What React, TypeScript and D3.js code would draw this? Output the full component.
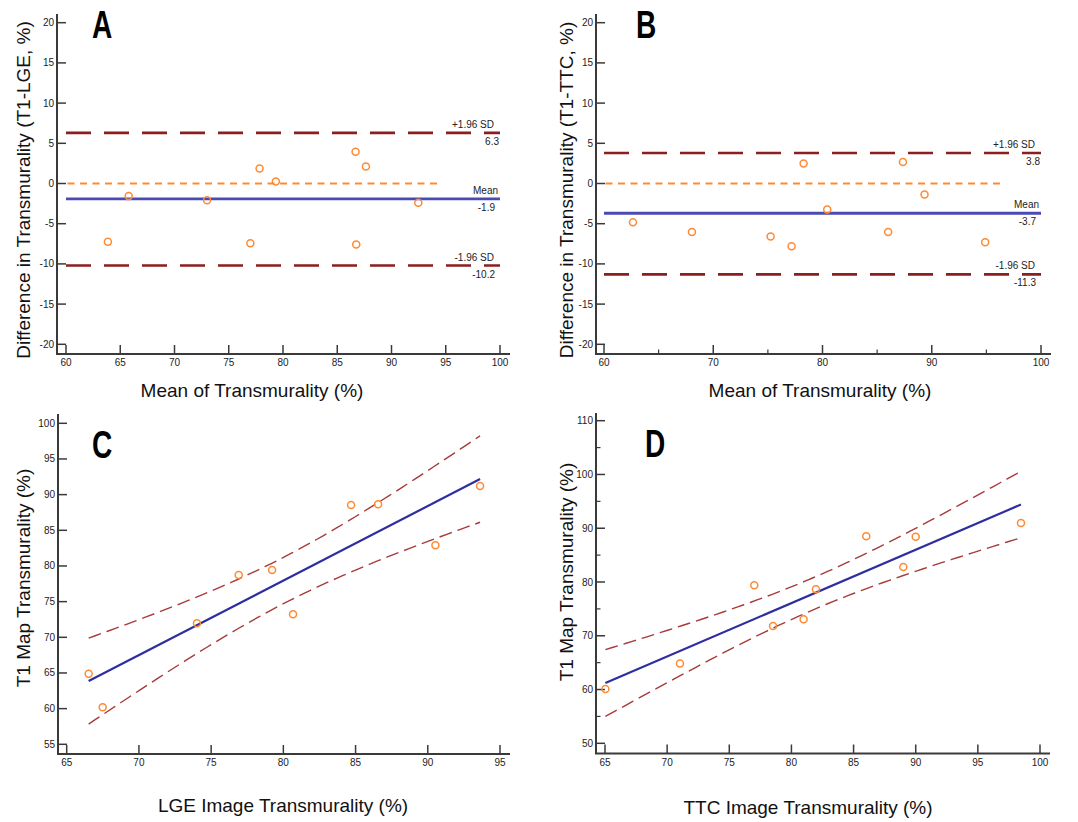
import React from 'react';
import * as d3 from 'd3';

// ---------- DATA ----------
// Panel A: Bland-Altman T1 vs LGE
const baMeanA = [63.86, 65.78, 73.0, 76.99, 77.84, 79.34, 86.69, 86.75, 87.64, 92.47];
const baDiffA = [-7.25, -1.57, -2.07, -7.42, 1.87, 0.25, 3.94, -7.58, 2.11, -2.4];
const baLineValuesA = [6.3, -1.9, -10.2]; // +1.96 SD, mean, -1.96 SD
const baZeroEndA = 94.3;

// Panel B: Bland-Altman T1 vs TTC
const baMeanB = [62.65, 68.05, 75.25, 77.17, 78.27, 80.43, 86.01, 87.36, 89.34, 94.89];
const baDiffB = [-4.81, -6.02, -6.6, -7.8, 2.49, -3.24, -6.02, 2.66, -1.37, -7.31];
const baLineValuesB = [3.8, -3.7, -11.3];
const baZeroEndB = 96.7;

const baLineNames = ['+1.96 SD', 'Mean', '-1.96 SD'];

// Panel C: regression T1 vs LGE
const lgeC = [66.52, 67.49, 74.02, 76.91, 79.22, 80.67, 84.69, 86.56, 90.53, 93.62];
const t1C = [64.9, 60.2, 71.96, 78.73, 79.43, 73.22, 88.55, 88.65, 82.9, 91.21];

// Panel D: regression T1 vs TTC
const ttcD = [65.03, 71.03, 77.01, 78.52, 80.98, 81.97, 86.02, 89.0, 90.0, 98.47];
const t1D = [60.11, 64.82, 79.39, 71.83, 73.07, 78.65, 88.5, 82.8, 88.43, 90.98];

const tCrit95 = 2.306; // t(0.975, df = 8)

// Ticks
const baXTicksA = [60, 65, 70, 75, 80, 85, 90, 95, 100];
const baXTicksB = [60, 70, 80, 90, 100];
const baXMinorB = [65, 75, 85, 95];
const baYTicks = [-20, -15, -10, -5, 0, 5, 10, 15, 20];
const cXTicks = [65, 70, 75, 80, 85, 90, 95];
const cYTicks = [55, 60, 65, 70, 75, 80, 85, 90, 95, 100];
const dXTicks = [65, 70, 75, 80, 85, 90, 95, 100];
const dYTicks = [50, 60, 70, 80, 90, 100, 110];
const dYMinor = [55, 65, 75, 85, 95, 105];

// ---------- STYLE ----------
const FONT = 'Liberation Sans, Arial, Helvetica, sans-serif';
const AXIS = '#3a3a3a';
const ORANGE = '#ff8a33';
const SDRED = '#8b1e1e';
const MEANBLUE = '#4a4ab4';
const REGBLUE = '#2e2ea0';
const CIRED = '#a83a3a';

type Layout = {
  axisX: number; axisBottom: number; axisTop: number; axisRight: number;
  xRange: [number, number]; yRange: [number, number];
};

function Axes({ L, x, y, xTicks, yTicks, xMinor = [], yMinor = [] }: any) {
  return (
    <g>
      <line x1={L.axisX} x2={L.axisX} y1={L.axisTop} y2={L.axisBottom} stroke={AXIS} strokeWidth={2} />
      <line x1={L.axisX - 1} x2={L.axisRight} y1={L.axisBottom} y2={L.axisBottom} stroke={AXIS} strokeWidth={2} />
      {yTicks.map((t: number) => (
        <g key={'y' + t}>
          <line x1={L.axisX} x2={L.axisX + 9} y1={y(t)} y2={y(t)} stroke={AXIS} strokeWidth={1.5} />
          <text x={L.axisX - 3} y={y(t)} dy="0.35em" textAnchor="end" fontSize={10} fontFamily={FONT} fill="#222">{t}</text>
        </g>
      ))}
      {yMinor.map((t: number) => (
        <line key={'ym' + t} x1={L.axisX} x2={L.axisX + 4.5} y1={y(t)} y2={y(t)} stroke={AXIS} strokeWidth={1.2} />
      ))}
      {xTicks.map((t: number) => (
        <g key={'x' + t}>
          <line x1={x(t)} x2={x(t)} y1={L.axisBottom} y2={L.axisBottom - 9} stroke={AXIS} strokeWidth={1.5} />
          <text x={x(t)} y={L.axisBottom + 12} textAnchor="middle" fontSize={10} fontFamily={FONT} fill="#222">{t}</text>
        </g>
      ))}
      {xMinor.map((t: number) => (
        <line key={'xm' + t} x1={x(t)} x2={x(t)} y1={L.axisBottom} y2={L.axisBottom - 4.5} stroke={AXIS} strokeWidth={1.2} />
      ))}
    </g>
  );
}

function Titles({ letter, letterX, letterY, yTitle, yTitleX, yTitleY, xTitle, xTitleX, xTitleY }: any) {
  return (
    <g>
      <text transform={`translate(${letterX},${letterY}) scale(0.72,1)`} fontSize={39} fontWeight="bold" fontFamily={FONT} fill="#000">{letter}</text>
      <text transform={`translate(${yTitleX},${yTitleY}) rotate(-90)`} textAnchor="middle" fontSize={19} fontFamily={FONT} fill="#111">{yTitle}</text>
      <text x={xTitleX} y={xTitleY} textAnchor="middle" fontSize={19} fontFamily={FONT} fill="#111">{xTitle}</text>
    </g>
  );
}

function BlandAltman({ L, means, diffs, lineValues, zeroEnd, xTicks, xMinor, xDomain }: any) {
  const x = d3.scaleLinear().domain(xDomain).range(L.xRange);
  const y = d3.scaleLinear().domain([-20, 20]).range(L.yRange);
  const [x0, x1] = xDomain;
  const xe = x(x1);
  const hLine = d3.line<number>().x((d) => d).y(0);
  return (
    <g>
      <Axes L={L} x={x} y={y} xTicks={xTicks} yTicks={baYTicks} xMinor={xMinor} />
      {/* zero line */}
      <line x1={x(x0) + 1.5} x2={x(zeroEnd)} y1={y(0)} y2={y(0)} stroke={ORANGE} strokeWidth={2.2} strokeDasharray="7,5.5" />
      {/* SD lines */}
      {[0, 2].map((i) => (
        <line key={'sd' + i} x1={x(x0)} x2={xe} y1={y(lineValues[i])} y2={y(lineValues[i])} stroke={SDRED} strokeWidth={2.6} strokeDasharray="25,13" />
      ))}
      {/* mean line */}
      <line x1={x(x0)} x2={xe} y1={y(lineValues[1])} y2={y(lineValues[1])} stroke={MEANBLUE} strokeWidth={2.8} />
      {/* labels */}
      {lineValues.map((v: number, i: number) => (
        <g key={'lab' + i} fontFamily={FONT} fontSize={10} fill="#222">
          <text x={xe - (i === 1 ? 2 : 6)} y={y(v) - 5} textAnchor="end">{baLineNames[i]}</text>
          <text x={xe - (i === 0 ? 1 : 5)} y={y(v) + 12} textAnchor="end">{v.toFixed(1)}</text>
        </g>
      ))}
      {means.map((m: number, i: number) => (
        <circle key={'p' + i} cx={x(m)} cy={y(diffs[i])} r={3.5} fill="none" stroke={ORANGE} strokeWidth={1.5} />
      ))}
    </g>
  );
}

function Regression({ L, xs, ys, xDomain, yDomain, xTicks, yTicks, yMinor }: any) {
  const x = d3.scaleLinear().domain(xDomain).range(L.xRange);
  const y = d3.scaleLinear().domain(yDomain).range(L.yRange);
  const n = xs.length;
  const mx = d3.mean(xs) as number;
  const my = d3.mean(ys) as number;
  const sxx = d3.sum(xs, (v: number) => (v - mx) ** 2);
  const sxy = d3.sum(xs.map((v: number, i: number) => (v - mx) * (ys[i] - my)));
  const slope = sxy / sxx;
  const icpt = my - slope * mx;
  const sse = d3.sum(xs.map((v: number, i: number) => (ys[i] - (icpt + slope * v)) ** 2));
  const s = Math.sqrt(sse / (n - 2));
  const [xmin, xmax] = d3.extent(xs) as [number, number];
  const grid = d3.range(0, 61).map((k) => xmin + ((xmax - xmin) * k) / 60);
  const hw = (v: number) => tCrit95 * s * Math.sqrt(1 / n + (v - mx) ** 2 / sxx);
  const line = d3.line<[number, number]>().x((d) => x(d[0])).y((d) => y(d[1]));
  const upper = grid.map((v) => [v, icpt + slope * v + hw(v)] as [number, number]);
  const lower = grid.map((v) => [v, icpt + slope * v - hw(v)] as [number, number]);
  const fit: [number, number][] = [[xmin, icpt + slope * xmin], [xmax, icpt + slope * xmax]];
  return (
    <g>
      <Axes L={L} x={x} y={y} xTicks={xTicks} yTicks={yTicks} yMinor={yMinor} />
      <path d={line(upper) as string} fill="none" stroke={CIRED} strokeWidth={1.4} strokeDasharray="13,6" />
      <path d={line(lower) as string} fill="none" stroke={CIRED} strokeWidth={1.4} strokeDasharray="13,6" />
      <path d={line(fit) as string} fill="none" stroke={REGBLUE} strokeWidth={2.2} />
      {xs.map((v: number, i: number) => (
        <circle key={'p' + i} cx={x(v)} cy={y(ys[i])} r={3.5} fill="none" stroke={ORANGE} strokeWidth={1.5} />
      ))}
    </g>
  );
}

const layoutA: Layout = { axisX: 57, axisBottom: 354, axisTop: 14, axisRight: 510, xRange: [66, 500], yRange: [344.3, 22.7] };
const layoutB: Layout = { axisX: 596, axisBottom: 354, axisTop: 14, axisRight: 1051, xRange: [604, 1041], yRange: [344.3, 22.7] };
const layoutC: Layout = { axisX: 58, axisBottom: 754, axisTop: 414, axisRight: 510, xRange: [66.7, 500], yRange: [744.3, 423.3] };
const layoutD: Layout = { axisX: 596, axisBottom: 753.5, axisTop: 413, axisRight: 1050, xRange: [605, 1040], yRange: [743.3, 420.7] };

export default function App() {
  return (
    <svg width={1078} height={822} style={{ position: 'absolute', left: 0, top: 0, background: '#fff' }}>
      <rect width={1078} height={822} fill="#fff" />
      <BlandAltman L={layoutA} means={baMeanA} diffs={baDiffA} lineValues={baLineValuesA} zeroEnd={baZeroEndA}
        xTicks={baXTicksA} xMinor={[]} xDomain={[60, 100]} />
      <Titles letter="A" letterX={92} letterY={38} yTitle="Difference in Transmurality (T1-LGE, %)" yTitleX={29.5} yTitleY={190}
        xTitle="Mean of Transmurality (%)" xTitleX={252} xTitleY={397} />

      <BlandAltman L={layoutB} means={baMeanB} diffs={baDiffB} lineValues={baLineValuesB} zeroEnd={baZeroEndB}
        xTicks={baXTicksB} xMinor={baXMinorB} xDomain={[60, 100]} />
      <Titles letter="B" letterX={636} letterY={38} yTitle="Difference in Transmurality (T1-TTC, %)" yTitleX={573} yTitleY={190}
        xTitle="Mean of Transmurality (%)" xTitleX={820} xTitleY={397} />

      <Regression L={layoutC} xs={lgeC} ys={t1C} xDomain={[65, 95]} yDomain={[55, 100]} xTicks={cXTicks} yTicks={cYTicks} yMinor={[]} />
      <Titles letter="C" letterX={92} letterY={458} yTitle="T1 Map Transmurality (%)" yTitleX={29.5} yTitleY={578}
        xTitle="LGE Image Transmurality (%)" xTitleX={283} xTitleY={812} />

      <Regression L={layoutD} xs={ttcD} ys={t1D} xDomain={[65, 100]} yDomain={[50, 110]} xTicks={dXTicks} yTicks={dYTicks} yMinor={dYMinor} />
      <Titles letter="D" letterX={645} letterY={457} yTitle="T1 Map Transmurality (%)" yTitleX={573} yTitleY={572}
        xTitle="TTC Image Transmurality (%)" xTitleX={808} xTitleY={814} />
    </svg>
  );
}
